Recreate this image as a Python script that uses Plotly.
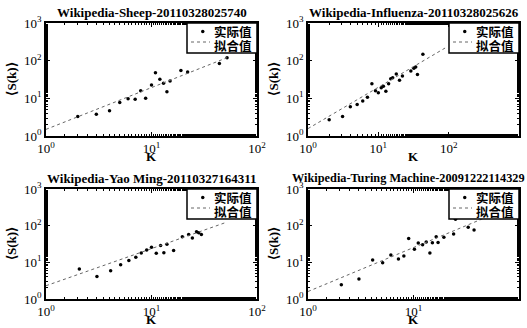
import math
import plotly.graph_objects as go

titles = ["Wikipedia-Sheep-20110328025740", "Wikipedia-Influenza-20110328025626",
          "Wikipedia-Yao Ming-20110327164311", "Wikipedia-Turing Machine-20091222114329"]
legend_names = ["实际值", "拟合值"]

sheep_k = [2.0, 3.0, 4.0, 5.0, 6.0, 7.0, 7.9, 8.8, 10.0, 10.9, 12.0, 13.0, 14.0, 15.0, 19.0, 22.0, 44.0, 52.0]
sheep_s = [3.3, 3.8, 4.7, 7.7, 9.7, 9.5, 15.8, 10.0, 22.5, 48.0, 32.0, 25.0, 15.0, 29.0, 55.0, 50.0, 84.0, 120.0]

flu_k = [2.0, 3.1, 4.0, 5.0, 6.0, 7.0, 8.1, 9.1, 10.0, 11.0, 11.8, 12.8, 14.0, 15.0, 16.0, 18.0, 20.0, 22.0, 29.0, 32.0, 34.0, 36.0, 43.0]
flu_s = [2.7, 3.3, 6.0, 6.9, 8.5, 10.7, 24.4, 16.0, 14.0, 19.0, 21.0, 15.5, 24.5, 33.0, 35.0, 44.0, 30.0, 39.0, 53.0, 63.0, 68.0, 43.0, 147.0]

yao_k = [2.07, 3.04, 4.1, 5.1, 6.1, 7.1, 8.0, 9.0, 10.0, 11.1, 12.2, 13.1, 14.0, 16.2, 19.6, 22.5, 24.4, 26.7, 28.0, 29.7]
yao_s = [6.6, 4.1, 5.9, 8.6, 11.3, 13.7, 17.9, 21.7, 25.7, 17.6, 29.0, 18.3, 31.0, 20.9, 50.0, 57.0, 46.0, 68.0, 64.0, 57.0]

turing_k = [2.07, 3.04, 4.1, 5.1, 6.1, 7.2, 8.1, 9.0, 10.2, 11.1, 12.2, 13.2, 14.3, 15.1, 16.4, 17.1, 19.4, 24.0, 25.0, 33.0, 37.5]
turing_s = [2.46, 3.5, 11.6, 9.8, 15.8, 12.3, 14.9, 45.0, 22.6, 33.7, 30.3, 36.0, 18.0, 34.0, 50.0, 35.0, 48.0, 59.0, 150.0, 90.0, 76.0]

# fitted lines: end points (K, <S(k)>)
fit_k = [[1.0, 52.0], [1.0, 91.0], [1.0, 51.0], [1.0, 49.0]]
fit_s = [[1.5, 120.0], [1.57, 222.0], [2.3, 123.0], [1.6, 170.0]]

xranges = [[0, 2], [0, 3], [0, 2], [0, 2]]
xticks = [[1, 10, 100], [1, 10, 100, 1000], [1, 10, 100], [1, 10, 100]]
yticks = [1, 10, 100, 1000]


def sup(v):
    return "10<sup>%d</sup>" % round(math.log10(v))


W, H = 527, 328
boxes = [  # left, right, top, bottom in px
    (46, 257, 23, 136), (308, 519, 23, 136),
    (46, 257, 189, 299), (308, 519, 189, 299)]
title_shift = [0, 0, 0, -5]
title_size = [13, 13, 13, 12.3]

data = [(sheep_k, sheep_s), (flu_k, flu_s), (yao_k, yao_s), (turing_k, turing_s)]

serif = "Liberation Serif"
cjk = "Noto Sans CJK SC"
MARK_COLOR = "black"
FIT_COLOR = "#666666"

fig = go.Figure()
layout = dict(width=W, height=H, margin=dict(l=0, r=0, t=0, b=0, autoexpand=False),
              paper_bgcolor="white", plot_bgcolor="white", showlegend=False,
              annotations=[], shapes=[])


def px(x):
    return x / W


def py(y):
    return 1 - y / H


for i, ((k, s), (l, r, t, b)) in enumerate(zip(data, boxes)):
    n = "" if i == 0 else str(i + 1)
    xa = "x" + n
    ya = "y" + n
    fig.add_trace(go.Scatter(x=k, y=s, mode="markers", name=legend_names[0],
                             marker=dict(symbol="circle", size=3.5, color=MARK_COLOR),
                             xaxis=xa, yaxis=ya))
    fig.add_trace(go.Scatter(x=fit_k[i], y=fit_s[i], mode="lines", name=legend_names[1],
                             line=dict(color=FIT_COLOR, width=1, dash="dot"),
                             xaxis=xa, yaxis=ya))
    dx = [px(l), px(r)]
    dy = [py(b), py(t)]
    axcommon = dict(type="log", showline=True, linecolor="black", linewidth=1.5,
                    mirror="ticks", ticks="inside", ticklen=4, tickcolor="black",
                    showgrid=False, zeroline=False,
                    minor=dict(ticks="inside", ticklen=2, tickcolor="black", showgrid=False),
                    tickfont=dict(family=serif, size=13, color="black"))
    layout["xaxis" + n] = dict(axcommon, domain=dx, range=xranges[i],
                               tickvals=xticks[i], ticktext=[sup(v) for v in xticks[i]],
                               anchor=ya)
    layout["yaxis" + n] = dict(axcommon, domain=dy, range=[0, 3],
                               tickvals=yticks, ticktext=[sup(v) for v in yticks],
                               anchor=xa)
    cx = (l + r) / 2
    ann = layout["annotations"]
    ann.append(dict(text="<b>" + titles[i] + "</b>", x=px(cx + title_shift[i]), y=py(t - 11),
                    xref="paper", yref="paper", showarrow=False,
                    xanchor="center", yanchor="middle",
                    font=dict(family=serif, size=title_size[i], color="black")))
    ann.append(dict(text="<b>K</b>", x=px(cx), y=py(b + 20),
                    xref="paper", yref="paper", showarrow=False,
                    xanchor="center", yanchor="middle",
                    font=dict(family=serif, size=13, color="black")))
    ann.append(dict(text="<b>⟨S(k)⟩</b>", x=px(l - 35), y=py((t + b) / 2),
                    xref="paper", yref="paper", showarrow=False, textangle=-90,
                    xanchor="center", yanchor="middle",
                    font=dict(family=serif, size=13, color="black")))
    # legend box (drawn inside the top-right corner of the axes)
    lx0, ly0, lx1, ly1 = r - 70, t, r, t + 30
    sh = layout["shapes"]
    sh.append(dict(type="rect", xref="paper", yref="paper", x0=px(lx0), x1=px(lx1),
                   y0=py(ly1), y1=py(ly0), fillcolor="white",
                   line=dict(color="black", width=1.5), layer="above"))
    row1, row2 = ly0 + 8.5, ly0 + 22
    sh.append(dict(type="circle", xref="paper", yref="paper",
                   x0=px(lx0 + 14), x1=px(lx0 + 17.5), y0=py(row1 + 1.75), y1=py(row1 - 1.75),
                   fillcolor=MARK_COLOR, line=dict(color=MARK_COLOR, width=0), layer="above"))
    sh.append(dict(type="line", xref="paper", yref="paper",
                   x0=px(lx0 + 4), x1=px(lx0 + 23), y0=py(row2 - 3), y1=py(row2 - 3),
                   line=dict(color=FIT_COLOR, width=1, dash="dot"), layer="above"))
    for name, ry in zip(legend_names, (row1, row2)):
        ann.append(dict(text="<b>" + name + "</b>", x=px(lx0 + 25), y=py(ry),
                        xref="paper", yref="paper", showarrow=False,
                        xanchor="left", yanchor="middle",
                        font=dict(family=cjk, size=12.5, color="black")))

fig.update_layout(**layout)
fig.write_html("out.html")
